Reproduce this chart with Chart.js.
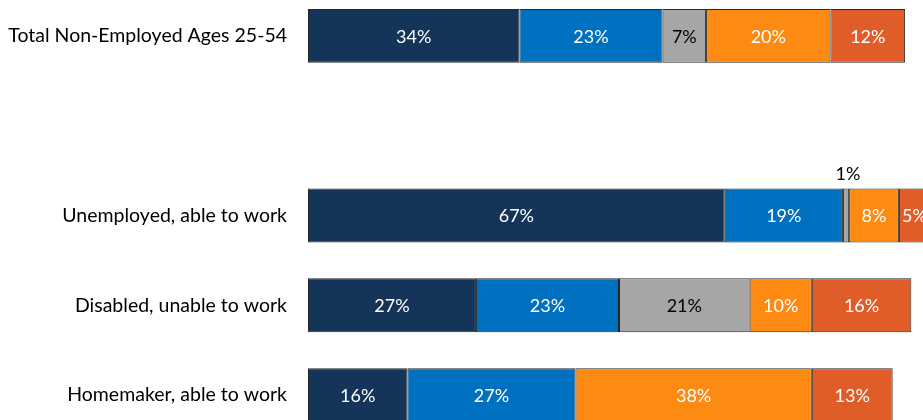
<!DOCTYPE html>
<html>
<head>
<meta charset="utf-8">
<script src="https://cdn.jsdelivr.net/npm/chart.js@4/dist/chart.umd.min.js"></script>
<style>
  html, body { margin: 0; padding: 0; background: #fff; overflow: hidden; }
  body { width: 923px; height: 420px; position: relative; }
  #wrap { position: absolute; left: 0; top: -9px; width: 930px; height: 449px; }
</style>
</head>
<body>
<div id="wrap"><canvas id="nonEmployedChart"></canvas></div>
<script>
// the empty category keeps the gap under the total bar
const categories = ['Total Non-Employed Ages 25-54', '', 'Unemployed, able to work', 'Disabled, unable to work', 'Homemaker, able to work']

const navyShare = [34, null, 67, 27, 16]
const blueShare = [23, null, 19, 23, 27]
const greyShare = [7, null, 1, 21, null]
const orangeShare = [20, null, 8, 10, 38]
const redShare = [12, null, 5, 16, 13]

const seriesColors = ['#143459', '#0071C1', '#A6A6A6', '#FD8A12', '#E05D29']
const labelColors = ['#fff', '#fff', '#000', '#fff', '#fff']

const valueLabels = {
  id: 'valueLabels',
  afterDatasetsDraw(chart) {
    const ctx = chart.ctx
    ctx.save()
    ctx.font = '18px Lato'
    ctx.textAlign = 'center'
    ctx.textBaseline = 'middle'
    chart.data.datasets.forEach((ds, i) => {
      const meta = chart.getDatasetMeta(i)
      meta.data.forEach((bar, j) => {
        const v = ds.data[j]
        if (v === null || v === undefined) return
        const cx = (bar.x + bar.base) / 2
        if (v >= 3) {
          ctx.fillStyle = labelColors[i]
          ctx.fillText(v + '%', cx, bar.y + 1)
        } else {
          // too thin, put it above the bar
          ctx.fillStyle = '#000'
          ctx.fillText(v + '%', cx + 2, bar.y - bar.height / 2 - 14)
        }
      })
    })
    ctx.restore()
  }
}

const makeSet = (label, data, i) => ({
  label: label,
  data: data,
  backgroundColor: seriesColors[i],
  borderColor: '#262626',
  borderWidth: 1,
  borderSkipped: false,
  barPercentage: 0.6,
  categoryPercentage: 1
})

new Chart(document.getElementById('nonEmployedChart'), {
  type: 'bar',
  data: {
    labels: categories,
    datasets: [
      makeSet('Segment 1', navyShare, 0),
      makeSet('Segment 2', blueShare, 1),
      makeSet('Segment 3', greyShare, 2),
      makeSet('Segment 4', orangeShare, 3),
      makeSet('Segment 5', redShare, 4)
    ]
  },
  options: {
    indexAxis: 'y',
    responsive: true,
    maintainAspectRatio: false,
    animation: false,
    layout: { padding: 0 },
    plugins: {
      legend: { display: false },
      tooltip: { enabled: false }
    },
    scales: {
      x: {
        stacked: true,
        display: false,
        min: 0,
        max: 100
      },
      y: {
        stacked: true,
        grid: { display: false, drawTicks: false },
        border: { display: false },
        ticks: {
          color: '#000',
          padding: 21,
          font: { family: 'Lato', size: 19.5 }
        },
        afterFit(scale) {
          scale.width = 308
          scale.paddingTop = 0
          scale.paddingBottom = 0
        }
      }
    }
  },
  plugins: [valueLabels]
})
</script>
</body>
</html>
